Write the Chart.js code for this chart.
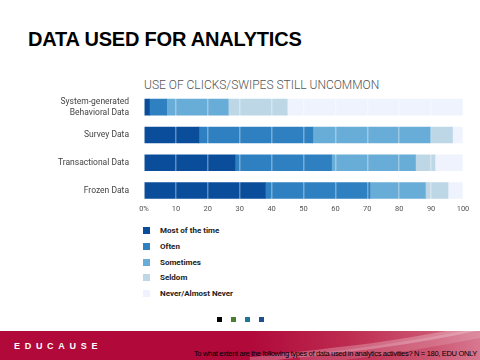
<!DOCTYPE html>
<html>
<head>
<meta charset="utf-8">
<script src="https://cdn.jsdelivr.net/npm/chart.js@4"></script>
<style>
  body { margin: 0; width: 480px; height: 360px; overflow: hidden; background: #fff; position: relative; font-family: Roboto, sans-serif; }
  #title { position: absolute; left: 28px; top: 28px; font: bold 20px "Liberation Sans", Arial, sans-serif; color: #000; letter-spacing: -0.2px; white-space: nowrap; }
  #subtitle { position: absolute; left: 144px; top: 78px; font: 300 12px Roboto, sans-serif; color: #555; white-space: nowrap; }
  #chartWrap { position: absolute; left: 0; top: 81px; width: 480px; height: 141px; }
  #legend { position: absolute; left: 143px; top: 227px; }
  .legend-item { height: 15.8px; display: flex; align-items: flex-start; font: bold 8px Roboto, sans-serif; color: #222; }
  .legend-dot { width: 7px; height: 7px; margin-right: 10px; }
  .legend-item span:last-child { line-height: 7px; }
  #dots { position: absolute; top: 317px; left: 217px; }
  #dots span { position: absolute; width: 5px; height: 5px; top: 0; }
  #footer { position: absolute; left: 0; top: 331px; width: 480px; height: 29px; overflow: hidden;
    background: linear-gradient(to right, #b0093a 0%, #b0093a 52%, #bd2a50 72%, #cc5672 90%, #d77890 100%); }
  #swoosh { position: absolute; left: 0; top: 0; }
  #brand { position: absolute; left: 14px; top: 10px; font: bold 9px "Liberation Sans", Arial, sans-serif; color: #fff; letter-spacing: 4.7px; }
  #note { position: absolute; right: 3px; top: 18px; font: 7.5px "Liberation Sans", Arial, sans-serif; color: #000; letter-spacing: -0.32px; white-space: nowrap; }
</style>
</head>
<body>
<div id="title">DATA USED FOR ANALYTICS</div>
<div id="subtitle">USE OF CLICKS/SWIPES STILL UNCOMMON</div>
<div id="chartWrap"><canvas id="chartDados"></canvas></div>
<div id="legend"></div>
<div id="dots">
  <span style="left:0;background:#000"></span>
  <span style="left:14px;background:#4b7f2f"></span>
  <span style="left:28px;background:#217696"></span>
  <span style="left:42px;background:#1f4f8d"></span>
</div>
<div id="footer">
  <svg id="swoosh" width="480" height="29">
    <path d="M250 29 C 330 20, 400 14, 480 -4" stroke="rgba(255,255,255,0.25)" stroke-width="6" fill="none"/>
    <path d="M300 29 C 370 22, 430 12, 480 2" stroke="rgba(255,255,255,0.15)" stroke-width="10" fill="none"/>
  </svg>
  <div id="brand">EDUCAUSE</div>
  <div id="note">To what extent are the following types of data used in analytics activities? N = 180, EDU ONLY</div>
</div>
<script>
const categorias = [['System-generated', 'Behavioral Data'], 'Survey Data', 'Transactional Data', 'Frozen Data'];
const xTickLabels = ['0%', '10', '20', '30', '40', '50', '60', '70', '80', '90', '100'];

const maisVezes = [1.7, 17.2, 28.5, 38.0];
const frequente = [5.4, 35.7, 30.3, 32.8];
const asVezes = [19.3, 37.0, 26.3, 17.4];
const raramente = [18.5, 6.8, 6.1, 7.1];
const nunca = [55.1, 3.3, 8.8, 4.7];

function renderLegend(chart, containerId) {
  const container = document.getElementById(containerId);
  container.innerHTML = '';
  chart.data.datasets.forEach(ds => {
    const item = document.createElement('div');
    item.className = 'legend-item';
    const dot = document.createElement('span');
    dot.className = 'legend-dot';
    dot.style.background = ds.backgroundColor;
    const label = document.createElement('span');
    label.textContent = ds.label;
    item.appendChild(dot);
    item.appendChild(label);
    container.appendChild(item);
  });
}

const chart = new Chart(document.getElementById('chartDados'), {
  type: 'bar',
  data: {
    labels: categorias,
    datasets: [
      { label: 'Most of the time', data: maisVezes, backgroundColor: '#0a4d9b' },
      { label: 'Often', data: frequente, backgroundColor: '#2f80c0' },
      { label: 'Sometimes', data: asVezes, backgroundColor: '#68acd8' },
      { label: 'Seldom', data: raramente, backgroundColor: '#bdd7e7' },
      { label: 'Never/Almost Never', data: nunca, backgroundColor: '#eff3fe' }
    ]
  },
  options: {
    indexAxis: 'y',
    responsive: true,
    maintainAspectRatio: false,
    animation: false,
    layout: { padding: { top: 4, right: 17, bottom: 0 } },
    datasets: { bar: { barThickness: 16, borderWidth: 0 } },
    plugins: {
      legend: { display: false },
      tooltip: { enabled: false }
    },
    scales: {
      x: {
        stacked: true,
        min: 0,
        max: 100,
        border: { display: false },
        grid: { color: 'rgba(255,255,255,0.35)', lineWidth: 1.5, drawTicks: false, z: 1 },
        ticks: {
          stepSize: 10,
          padding: 0,
          color: '#555',
          font: { family: 'Roboto', size: 7.5 },
          callback: (v, i) => xTickLabels[i]
        }
      },
      y: {
        stacked: true,
        border: { display: false },
        grid: { display: false },
        afterFit: scale => { scale.width = 144; },
        ticks: {
          padding: 7,
          color: '#444',
          font: { family: 'Roboto', size: 8.5, lineHeight: 1.25 }
        }
      }
    }
  }
});

renderLegend(chart, 'legend');
</script>
</body>
</html>
